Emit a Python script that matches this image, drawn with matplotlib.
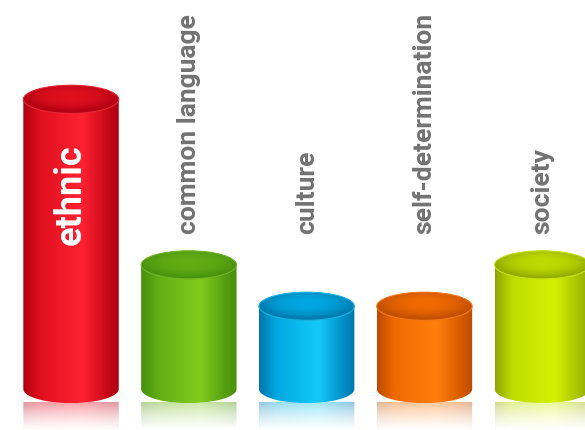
import numpy as np
import matplotlib
matplotlib.use("Agg")
import matplotlib.pyplot as plt
from matplotlib.path import Path
from matplotlib.patches import PathPatch, Ellipse
from matplotlib.colors import to_rgb

# data
categories = ["ethnic", "common language", "culture", "self-determination", "society"]
values = [7, 3, 2, 2, 3]
dark_colors = ["#ad0010", "#45900c", "#0076ac", "#bc4c00", "#8ea600"]
base_colors = ["#e0101f", "#62ad14", "#00a8e0", "#f06a00", "#bedc00"]
light_colors = ["#ff2232", "#82cc1e", "#14cafa", "#ff7e0c", "#d6f202"]

BAR_W = 0.81
RY = 0.34


def body_gradient(dark, base, light, n=200):
    t = np.linspace(0, 1, n)
    stops = [0.0, 0.18, 0.62, 0.88, 1.0]
    d, b, l = np.array(to_rgb(dark)), np.array(to_rgb(base)), np.array(to_rgb(light))
    cols = [d, b, l, (b + d) / 2, d]
    out = np.zeros((n, 3))
    for k in range(3):
        out[:, k] = np.interp(t, stops, [c[k] for c in cols])
    return out


def draw_cylinder(ax, x, v, dark, base, light):
    xl, xr = x - BAR_W / 2, x + BAR_W / 2
    a = BAR_W / 2
    grad = body_gradient(dark, base, light)

    # reflection under the bottom
    th = np.linspace(np.pi, 2 * np.pi, 60)
    pts = [(x + a * np.cos(t), RY * np.sin(t)) for t in th]
    pts += [(xr, -1.2), (xl, -1.2), pts[0]]
    rpath = PathPatch(Path(pts), facecolor="none", edgecolor="none")
    ax.add_patch(rpath)
    m = 60
    rgba = np.zeros((m, grad.shape[0], 4))
    rgba[:, :, :3] = grad[None, :, :] * 0.75 + 0.25
    alpha = np.linspace(1.0, 0.0, m) ** 1.4 * 0.55
    rgba[:, :, 3] = alpha[:, None]
    im = ax.imshow(rgba, extent=(xl, xr, -RY - 0.7, -RY + 0.02), aspect="auto",
                   zorder=1, interpolation="bilinear")
    im.set_clip_path(rpath)

    # body
    pts = [(xl, v), (xl, 0)]
    pts += [(x + a * np.cos(t), RY * np.sin(t)) for t in th]
    th2 = np.linspace(0, np.pi, 60)
    pts += [(xr, v)]
    pts += [(x + a * np.cos(t), v + RY * np.sin(t)) for t in th2]
    pts += [pts[0]]
    bpatch = PathPatch(Path(pts), facecolor="none", edgecolor="none")
    ax.add_patch(bpatch)
    im = ax.imshow(grad[None, :, :], extent=(xl, xr, -RY, v + RY), aspect="auto",
                   zorder=2, interpolation="bilinear")
    im.set_clip_path(bpatch)

    # open top: radial shading, darker toward the rim
    top = Ellipse((x, v), BAR_W, 2 * RY, facecolor="none", edgecolor="none")
    ax.add_patch(top)
    d, b = np.array(to_rgb(dark)), np.array(to_rgb(base))
    n = 80
    gx, gy = np.meshgrid(np.linspace(-1, 1, n), np.linspace(-1, 1, n))
    gy = gy + 0.15
    r = np.clip(np.sqrt(gx ** 2 + gy ** 2), 0, 1)
    s = (r ** 2.2)[:, :, None] * 0.85
    tg = b[None, None, :] * (1 - s) + d[None, None, :] * s
    im = ax.imshow(np.clip(tg, 0, 1), extent=(xl, xr, v - RY, v + RY), aspect="auto",
                   zorder=3, interpolation="bilinear")
    im.set_clip_path(top)
    ax.add_patch(Ellipse((x, v), BAR_W, 2 * RY, facecolor="none",
                         edgecolor=tuple(b * 0.9 + 0.1), lw=0.8, zorder=4))


fig = plt.figure(figsize=(5.85, 4.3), dpi=100)
ax = fig.add_axes([0, 0, 1, 1])
ax.set_axis_off()

for i, (v, dc, bc, lc) in enumerate(zip(values, dark_colors, base_colors, light_colors)):
    draw_cylinder(ax, i, v, dc, bc, lc)

for i, (cat, v) in enumerate(zip(categories, values)):
    if v > 4:
        # tall bar: label sits inside, in white
        ax.text(i, 3.48, cat, rotation=90, ha="center", va="bottom", color="white",
                fontsize=26, fontweight="bold", family="Roboto", zorder=5)
    else:
        ax.text(i, 3.74, cat, rotation=90, ha="center", va="bottom", color="#727272",
                fontsize=19, fontweight="bold", family="Roboto", zorder=5)

ax.set_xlim(-0.603, 4.363)
ax.set_ylim(-0.99, 9.40)
fig.savefig("out.png", dpi=100, facecolor="white")
